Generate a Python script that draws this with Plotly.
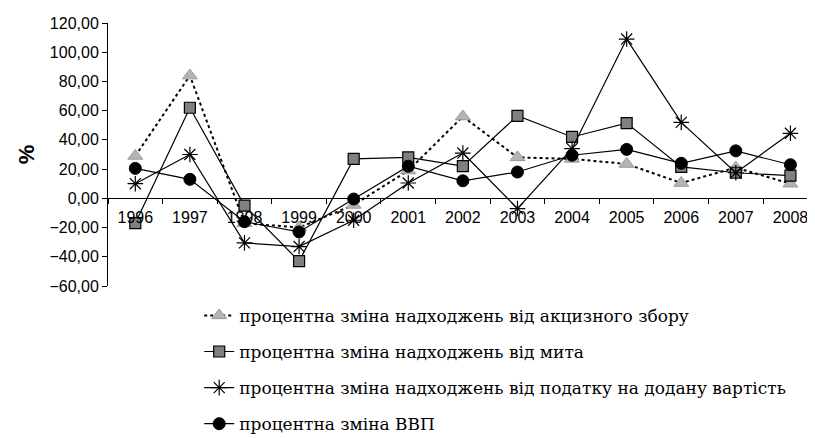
import plotly.graph_objects as go

years = ["1996", "1997", "1998", "1999", "2000", "2001", "2002",
         "2003", "2004", "2005", "2006", "2007", "2008"]

excise = [29.0, 84.0, -17.0, -20.0, -4.5, 19.0, 56.0, 28.0, 27.0, 23.5, 10.5, 21.0, 10.0]
customs = [-17.0, 62.0, -5.0, -43.0, 27.0, 28.0, 22.0, 56.5, 42.0, 51.5, 21.5, 17.5, 15.5]
vat = [10.0, 30.0, -30.5, -33.0, -15.0, 10.5, 31.0, -7.0, 34.0, 109.0, 52.0, 17.5, 44.5]
gdp = [20.5, 13.0, -16.0, -23.0, -0.5, 22.0, 12.0, 18.0, 29.5, 33.5, 24.0, 32.5, 23.0]

names = [
    "процентна зміна надходжень від акцизного збору",
    "процентна зміна надходжень від мита",
    "процентна зміна надходжень від податку на додану вартість",
    "процентна зміна ВВП",
]

fig = go.Figure()

fig.add_trace(go.Scatter(
    x=years, y=excise, name=names[0], mode="lines+markers", legendgroup="a",
    line=dict(color="black", width=2, dash="dot"),
    marker=dict(symbol="triangle-up", size=13, color="#b4b4b4",
                line=dict(color="#999999", width=1)),
))
fig.add_trace(go.Scatter(
    x=years, y=customs, name=names[1], mode="lines+markers", legendgroup="b",
    line=dict(color="black", width=1.2),
    marker=dict(symbol="square", size=11, color="#808080",
                line=dict(color="black", width=1.2)),
))
fig.add_trace(go.Scatter(
    x=years, y=vat, name=names[2], mode="lines+markers", legendgroup="c",
    line=dict(color="black", width=1.2),
    marker=dict(symbol="asterisk-open", size=13, color="black",
                line=dict(color="black", width=1.2)),
))
fig.add_trace(go.Scatter(
    x=years, y=gdp, name=names[3], mode="lines+markers", legendgroup="d",
    line=dict(color="black", width=1.2),
    marker=dict(symbol="circle", size=12, color="black",
                line=dict(color="black", width=1)),
))

fig.update_layout(
    width=807, height=430,
    margin=dict(l=100, r=0, t=15, b=152, autoexpand=False),
    plot_bgcolor="white", paper_bgcolor="white",
    separators=",.",
    font=dict(family="Liberation Sans", size=15, color="black"),
    showlegend=True,
    legend=dict(
        x=0.129, y=-0.045, xanchor="left", yanchor="top",
        orientation="v", tracegroupgap=11,
        font=dict(family="DejaVu Serif", size=17, color="black"),
        bgcolor="rgba(0,0,0,0)",
    ),
    xaxis=dict(
        type="category", range=[-0.5, 12.45],
        anchor="free", position=1/3, automargin=False,
        showline=True, linecolor="black", linewidth=1,
        ticks="outside", tickson="boundaries", ticklen=5, tickcolor="black",
        showgrid=False, zeroline=False, ticklabelstandoff=4,
        tickfont=dict(family="Liberation Sans", size=16),
    ),
    yaxis=dict(
        range=[-60, 120], dtick=20, tickformat=".2f", automargin=False,
        showline=True, linecolor="black", linewidth=1,
        ticks="outside", ticklen=5, tickcolor="black",
        showgrid=False, zeroline=False,
        tickfont=dict(family="Liberation Sans", size=16),
        title=dict(text="<b>%</b>", font=dict(family="Liberation Sans", size=22), standoff=8),
    ),
)

fig.write_html("out.html")
